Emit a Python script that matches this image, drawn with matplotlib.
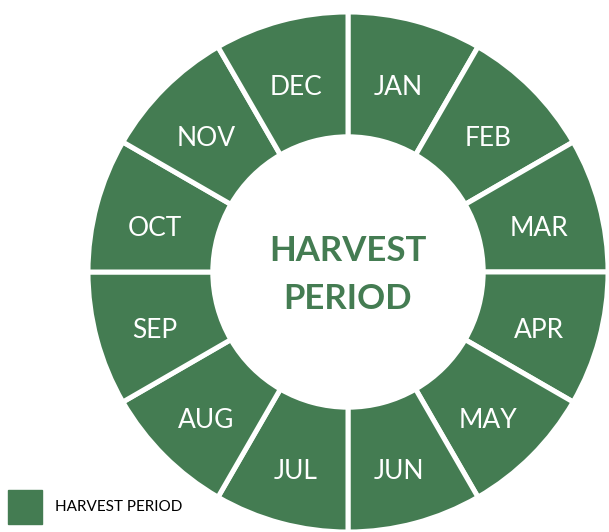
import matplotlib.pyplot as plt
import matplotlib.transforms as mtransforms
from matplotlib.patches import Patch

# harvest months (all 12 in season)
months = ['JAN', 'FEB', 'MAR', 'APR', 'MAY', 'JUN',
          'JUL', 'AUG', 'SEP', 'OCT', 'NOV', 'DEC']
share = [1] * 12
center_title = 'HARVEST\nPERIOD'
legend_label = 'HARVEST PERIOD'

green = '#447c52'
plt.rcParams['font.family'] = ['Lato', 'DejaVu Sans']

W, H = 609, 532
fig = plt.figure(figsize=(W / 100, H / 100), dpi=100)

cx, cy, R = 348, 272, 260
ax = fig.add_axes([(cx - R) / W, (H - cy - R) / H, 2 * R / W, 2 * R / H])

wedges, texts = ax.pie(share, labels=months, startangle=90, counterclock=False,
                       colors=[green] * 12, labeldistance=0.765, radius=1,
                       wedgeprops=dict(width=0.48, edgecolor='white', linewidth=3.6),
                       textprops=dict(color='white', fontsize=19))
# labels sit a touch below the ring centre in the original
shift = mtransforms.ScaledTranslation(-1 / 100, -5 / 100, fig.dpi_scale_trans)
for t in texts:
    t.set_horizontalalignment('center')
    t.set_verticalalignment('center_baseline')
    t.set_transform(t.get_transform() + shift)

ax.text(0, -0.012, center_title, ha='center', va='center', color=green,
        fontsize=25, fontweight='bold', linespacing=1.6)
ax.set_xlim(-1, 1)
ax.set_ylim(-1, 1)
ax.set_aspect('equal')
ax.axis('off')

fig.legend(handles=[Patch(color=green, label=legend_label)], loc='lower left',
           bbox_to_anchor=(0.0, 0.0), frameon=False, fontsize=11,
           handlelength=2.2, handleheight=3.05, handletextpad=0.85,
           borderpad=0.0, borderaxespad=0.52)

fig.savefig('out.png', dpi=100)
